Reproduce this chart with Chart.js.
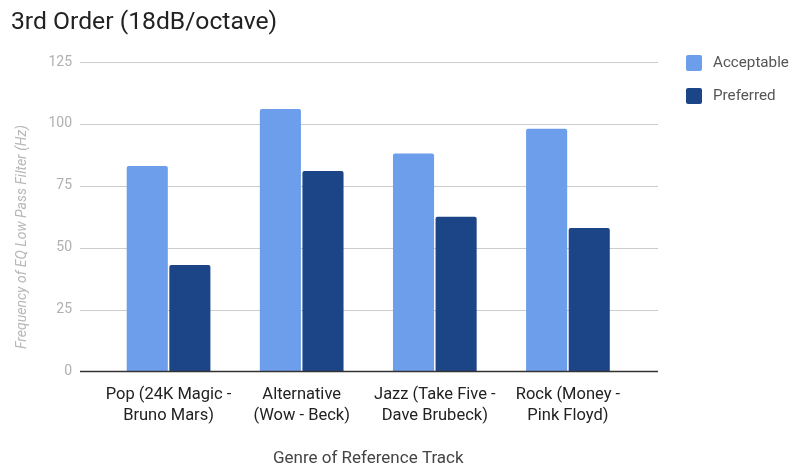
<!DOCTYPE html>
<html><head><meta charset="utf-8">
<script src="https://cdn.jsdelivr.net/npm/chart.js@4"></script>
<style>html,body{margin:0;padding:0;background:#fff}#wrap{width:790px;height:466px;position:relative}</style>
</head><body><div id="wrap"><canvas id="c" width="790" height="466"></canvas></div>
<script>
const chartTitle = '3rd Order (18dB/octave)';
const categories = [['Pop (24K Magic -','Bruno Mars)'],['Alternative','(Wow - Beck)'],['Jazz (Take Five -','Dave Brubeck)'],['Rock (Money -','Pink Floyd)']];
const seriesNames = ['Acceptable','Preferred'];
const seriesColors = ['#6d9eeb','#1c4587'];
const acceptable = [83,106,88,98];
const preferred = [43,81,62.5,58];
const yTicks = [0,25,50,75,100,125];
const xAxisTitle = 'Genre of Reference Track';
const yAxisTitle = 'Frequency of EQ Low Pass Filter (Hz)';

const FONT = 'Roboto';
const decor = {
  id: 'decor',
  beforeDatasetsDraw(chart) {
    const ctx = chart.ctx, y = chart.scales.y;
    ctx.save();
    ctx.strokeStyle = '#cccccc';
    ctx.lineWidth = 1;
    yTicks.forEach(v => {
      if (v === 0) return;
      const py = Math.round(y.getPixelForValue(v)) + 0.5;
      ctx.beginPath(); ctx.moveTo(80, py); ctx.lineTo(658, py); ctx.stroke();
    });
    ctx.restore();
  },
  afterDatasetsDraw(chart) {
    const ctx = chart.ctx, y = chart.scales.y;
    ctx.save();
    ctx.strokeStyle = '#333333';
    ctx.lineWidth = 1.5;
    const py = y.getPixelForValue(0);
    ctx.beginPath(); ctx.moveTo(80, py); ctx.lineTo(658, py); ctx.stroke();
    ctx.restore();
  },
  afterDraw(chart) {
    const ctx = chart.ctx;
    ctx.save();
    // title
    ctx.fillStyle = '#222222';
    ctx.font = '24.7px ' + FONT;
    ctx.textBaseline = 'alphabetic';
    ctx.textAlign = 'left';
    ctx.fillText(chartTitle, 11, 29);
    // legend
    chart.data.datasets.forEach((ds, i) => {
      const top = 55 + i * 33;
      ctx.fillStyle = ds.backgroundColor;
      ctx.beginPath();
      ctx.roundRect(686, top, 16, 16, 2);
      ctx.fill();
      ctx.fillStyle = '#555555';
      ctx.font = '15.2px ' + FONT;
      ctx.textBaseline = 'middle';
      ctx.fillText(ds.label, 713, top + 8);
    });
    // y title
    ctx.translate(22, 237);
    ctx.rotate(-Math.PI / 2);
    ctx.font = 'italic 14px ' + FONT;
    ctx.fillStyle = '#b7b7b7';
    ctx.textAlign = 'center';
    ctx.textBaseline = 'middle';
    ctx.fillText(yAxisTitle, 0, 0);
    ctx.restore();
  }
};

new Chart(document.getElementById('c'), {
  type: 'bar',
  data: {
    labels: categories,
    datasets: [
      { label: seriesNames[0], data: acceptable, backgroundColor: seriesColors[0] },
      { label: seriesNames[1], data: preferred, backgroundColor: seriesColors[1] }
    ]
  },
  options: {
    responsive: false,
    animation: false,
    devicePixelRatio: 1,
    layout: { padding: { left: 0, top: 62, right: 155.5, bottom: 0 } },
    datasets: { bar: { categoryPercentage: 0.64, barPercentage: 0.965, borderRadius: { topLeft: 2, topRight: 2 }, borderSkipped: 'start' } },
    plugins: { legend: { display: false }, title: { display: false }, tooltip: { enabled: false } },
    scales: {
      x: {
        grid: { display: false, drawTicks: false },
        border: { display: false },
        ticks: { color: '#222222', font: { family: FONT, size: 16.5, lineHeight: 1.27 }, padding: 12.5, maxRotation: 0, autoSkip: false },
        title: { display: true, text: xAxisTitle, color: '#444444', font: { family: FONT, size: 17, lineHeight: 1.2 }, padding: { top: 0, bottom: -3 } },
        afterFit(s) { s.height = 94.5; }
      },
      y: {
        min: 0, max: 125,
        afterBuildTicks(s) { s.ticks = yTicks.map(v => ({ value: v })); },
        grid: { display: false, drawTicks: false },
        border: { display: false },
        ticks: { color: '#b0b0b0', font: { family: FONT, size: 14 }, padding: 30 },
        afterFit(s) { s.width = 102; }
      }
    }
  },
  plugins: [decor]
});
</script></body></html>
